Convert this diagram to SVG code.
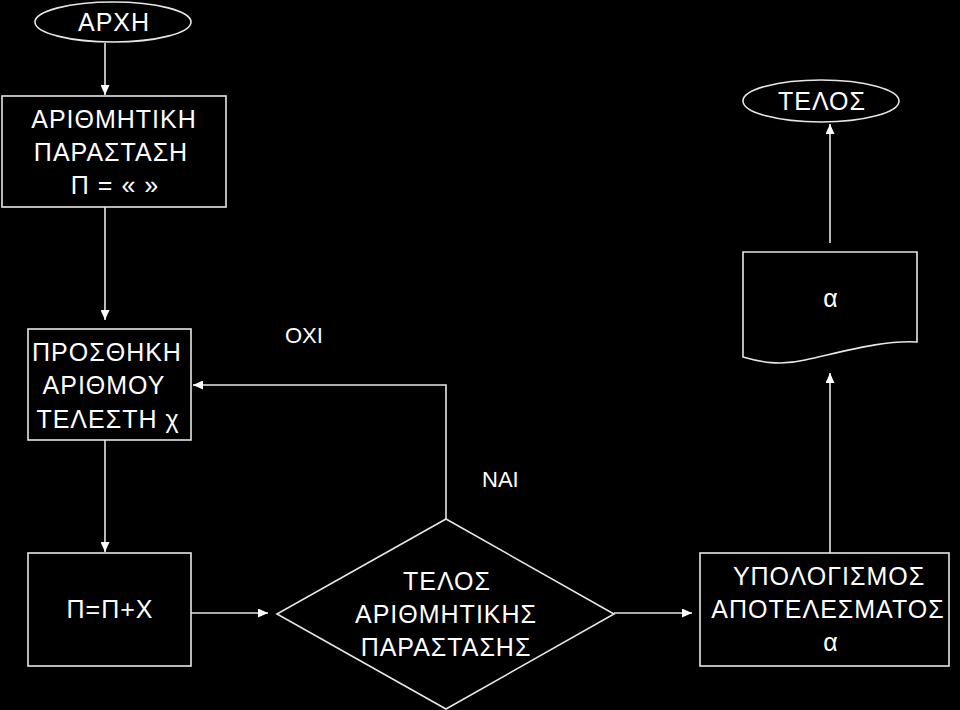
<svg xmlns="http://www.w3.org/2000/svg" width="960" height="710" viewBox="0 0 960 710">
<defs>
<marker id="ah" markerUnits="userSpaceOnUse" markerWidth="10" markerHeight="9" refX="10" refY="4.5" orient="auto">
<path d="M0,0 L10,4.5 L0,9 z" fill="#ffffff"/>
</marker>
<style>
.s{fill:#000;stroke:#e6e6e6;stroke-width:1.6}
.c{fill:none;stroke:#e6e6e6;stroke-width:1.6}
.t{font-family:"Liberation Sans",Arial,sans-serif;font-size:25px;fill:#fff;text-anchor:middle;letter-spacing:1px}
.l{font-family:"Liberation Sans",Arial,sans-serif;font-size:22px;fill:#fff}
</style>
</defs>
<rect width="960" height="710" fill="#000"/>
<g id="connectors">
<line class="c" x1="105" y1="43" x2="105" y2="95" marker-end="url(#ah)"/>
<line class="c" x1="105" y1="207" x2="105" y2="320" marker-end="url(#ah)"/>
<line class="c" x1="105" y1="440" x2="105" y2="552" marker-end="url(#ah)"/>
<line class="c" x1="191" y1="613" x2="268" y2="613" marker-end="url(#ah)"/>
<polyline class="c" points="446,519 446,385 193,385" marker-end="url(#ah)"/>
<line class="c" x1="614" y1="613" x2="692" y2="613" marker-end="url(#ah)"/>
<line class="c" x1="830" y1="553" x2="830" y2="373" marker-end="url(#ah)"/>
<line class="c" x1="830" y1="243" x2="830" y2="124" marker-end="url(#ah)"/>
</g>
<g id="start">
<ellipse class="s" cx="113" cy="22" rx="78" ry="20"/>
<text class="t" x="114" y="31">ΑΡΧΗ</text>
</g>
<g id="init">
<rect class="s" x="2" y="96" width="224" height="111"/>
<text class="t" x="114" y="128">ΑΡΙΘΜΗΤΙΚΗ</text>
<text class="t" x="111" y="161">ΠΑΡΑΣΤΑΣΗ</text>
<text class="t" x="115" y="194">Π = « »</text>
</g>
<g id="add">
<rect class="s" x="28" y="329" width="163" height="111"/>
<text class="t" x="107" y="361">ΠΡΟΣΘΗΚΗ</text>
<text class="t" x="104" y="394">ΑΡΙΘΜΟΥ</text>
<text class="t" x="108" y="428">ΤΕΛΕΣΤΗ χ</text>
</g>
<g id="assign">
<rect class="s" x="28" y="553" width="163" height="113"/>
<text class="t" x="110" y="618">Π=Π+Χ</text>
</g>
<g id="decision">
<polygon class="s" points="446,519 614,614 446,709 277,614"/>
<text class="t" x="447" y="590">ΤΕΛΟΣ</text>
<text class="t" x="446" y="623">ΑΡΙΘΜΗΤΙΚΗΣ</text>
<text class="t" x="446" y="656">ΠΑΡΑΣΤΑΣΗΣ</text>
</g>
<g id="compute">
<rect class="s" x="700" y="553" width="249" height="113"/>
<text class="t" x="829" y="585">ΥΠΟΛΟΓΙΣΜΟΣ</text>
<text class="t" x="828" y="618">ΑΠΟΤΕΛΕΣΜΑΤΟΣ</text>
<text class="t" x="831" y="651">α</text>
</g>
<g id="output">
<path class="s" d="M743,252 H917 V342 C885,340 850,350 805,360 C780,366 760,362 743,357 Z"/>
<text class="t" x="831" y="307">α</text>
</g>
<g id="end">
<ellipse class="s" cx="821" cy="101" rx="78" ry="21"/>
<text class="t" x="822" y="110">ΤΕΛΟΣ</text>
</g>
<g id="labels">
<text class="l" x="285" y="343">ΟΧΙ</text>
<text class="l" x="482" y="487">ΝΑΙ</text>
</g>
</svg>
